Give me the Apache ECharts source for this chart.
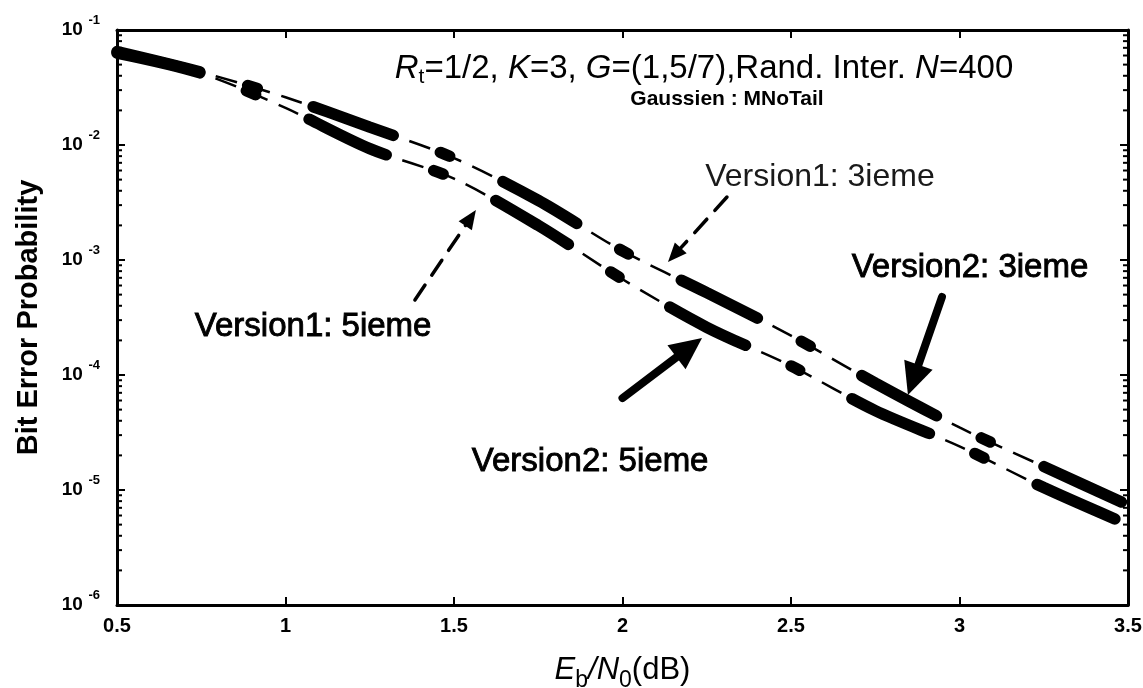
<!DOCTYPE html>
<html>
<head>
<meta charset="utf-8">
<script src="https://cdn.jsdelivr.net/npm/echarts@6/dist/echarts.min.js"></script>
<style>
html,body{margin:0;padding:0;background:#fff;overflow:hidden;}
#main{width:1143px;height:688px;}
</style>
</head>
<body>
<div id="main"></div>
<script>
// ---- data ----
const xValues = [0.5, 0.75, 1.0, 1.25, 1.5, 1.75, 2.0, 2.25, 2.5, 2.75, 3.0, 3.25, 3.5];
const ber3ieme = [0.065, 0.043, 0.026, 0.0143, 0.0077, 0.0033, 0.0012, 0.00052, 0.00022, 0.000085, 0.000035, 0.000016, 0.0000074];
const ber5ieme = [0.063, 0.042, 0.021, 0.0093, 0.0051, 0.0020, 0.00068, 0.00026, 0.00012, 0.000049, 0.000024, 0.0000105, 0.0000050];
const yDecades = [1e-6, 1e-5, 1e-4, 1e-3, 1e-2, 1e-1];

const annotationTexts = ['Version1: 3ieme', 'Version2: 3ieme', 'Version1: 5ieme', 'Version2: 5ieme'];
const annotationTextAt = [[2.586, 5.2e-3], [3.031, 8.5e-4], [1.082, 2.6e-4], [1.904, 1.75e-5]];
const arrowFrom = [[2.310, 3.53e-3], [2.948, 4.77e-4], [1.384, 4.49e-4], [2.000, 6.3e-5]];
const arrowTo = [[2.135, 9.6e-4], [2.847, 6.7e-5], [1.565, 2.72e-3], [2.236, 2.1e-4]];
const arrowKind = ['thin', 'thick', 'thin', 'thick'];

const FONT = '"Liberation Sans", Arial, sans-serif';

function pairs(ys) { return xValues.map((x, i) => [x, ys[i]]); }

const thinStyle = { color: '#000', width: 2.5, type: [22, 12] };
const thickStyle = { color: '#000', width: 11.5, type: [85, 50, 10, 59], cap: 'round' };

const chart = echarts.init(document.getElementById('main'));
const option = {
  animation: false,
  backgroundColor: '#fff',
  title: [{
    text: '{i|R}{s|t}{n|=1/2, }{i|K}{n|=3, }{i|G}{n|=(1,5/7),Rand. Inter. }{i|N}{n|=400}',
    left: 699, top: 45, textAlign: 'center',
    textStyle: {
      rich: {
        n: { fontFamily: FONT, fontSize: 33, fontWeight: 'normal', color: '#000', lineHeight: 38 },
        i: { fontFamily: FONT, fontSize: 33, fontWeight: 'normal', fontStyle: 'italic', color: '#000', lineHeight: 38 },
        s: { fontFamily: FONT, fontSize: 21, fontWeight: 'normal', color: '#000', lineHeight: 38, verticalAlign: 'bottom' }
      }
    }
  }, {
    text: 'Gaussien : MNoTail',
    left: 722, top: 84, textAlign: 'center',
    textStyle: { fontFamily: FONT, fontSize: 21, fontWeight: 'bold', color: '#000' }
  }],
  grid: { left: 117, right: 15, top: 30, bottom: 83, containLabel: false, outerBoundsMode: 'none' },
  xAxis: [{
    type: 'value', min: 0.5, max: 3.5, interval: 0.5, position: 'bottom',
    name: '{i|E}{s|b}{i|/N}{s|0}{n|(dB)}', nameLocation: 'middle', nameGap: 43,
    nameTextStyle: {
      rich: {
        n: { fontFamily: FONT, fontSize: 31, color: '#000', lineHeight: 44 },
        i: { fontFamily: FONT, fontSize: 31, fontStyle: 'italic', color: '#000', lineHeight: 44 },
        s: { fontFamily: FONT, fontSize: 23, color: '#000', lineHeight: 44, verticalAlign: 'bottom' }
      }
    },
    axisLine: { lineStyle: { color: '#000', width: 3 } },
    axisTick: { inside: true, length: 8, lineStyle: { color: '#000', width: 2 } },
    axisLabel: { margin: 11, fontFamily: FONT, fontSize: 20, fontWeight: 'bold', color: '#000',
      formatter: v => String(v) },
    splitLine: { show: false }
  }, {
    type: 'value', min: 0.5, max: 3.5, interval: 0.5, position: 'top',
    axisLine: { lineStyle: { color: '#000', width: 3 } },
    axisTick: { inside: true, length: 8, lineStyle: { color: '#000', width: 2 } },
    axisLabel: { show: false }, splitLine: { show: false }
  }],
  yAxis: [{
    type: 'log', logBase: 10, min: 1e-6, max: 1e-1, position: 'left',
    axisLine: { lineStyle: { color: '#000', width: 3 } },
    axisTick: { inside: true, length: 8, lineStyle: { color: '#000', width: 2 } },
    axisLabel: {
      margin: 17, color: '#000',
      formatter: v => '{b|10}{e| ' + Math.round(Math.log10(v)) + '}',
      rich: {
        b: { fontFamily: FONT, fontSize: 19, fontWeight: 'bold', color: '#000', lineHeight: 34 },
        e: { fontFamily: FONT, fontSize: 13, fontWeight: 'bold', color: '#000', lineHeight: 34, verticalAlign: 'top', padding: [1, 0, 0, 2] }
      }
    },
    splitLine: { show: false }
  }, {
    type: 'log', logBase: 10, min: 1e-6, max: 1e-1, position: 'right',
    axisLine: { lineStyle: { color: '#000', width: 3 } },
    axisTick: { inside: true, length: 8, lineStyle: { color: '#000', width: 2 } },
    axisLabel: { show: false }, splitLine: { show: false }
  }],
  series: [
    { type: 'line', name: 'Version1: 3ieme', data: pairs(ber3ieme), symbol: 'none', smooth: 0.3, lineStyle: thinStyle, silent: true, z: 2 },
    { type: 'line', name: 'Version1: 5ieme', data: pairs(ber5ieme), symbol: 'none', smooth: 0.3, lineStyle: thinStyle, silent: true, z: 2 },
    { type: 'line', name: 'Version2: 3ieme', data: pairs(ber3ieme), symbol: 'none', smooth: 0.3, lineStyle: thickStyle, silent: true, z: 3 },
    { type: 'line', name: 'Version2: 5ieme', data: pairs(ber5ieme), symbol: 'none', smooth: 0.3, lineStyle: thickStyle, silent: true, z: 3 }
  ]
};
chart.setOption(option);

// ---- decorations computed through the chart's scales ----
const graphics = [];
function px(p) { return chart.convertToPixel({ xAxisIndex: 0, yAxisIndex: 0 }, p); }

// minor log ticks on left and right
const leftX = px([0.5, 1e-3])[0];
const rightX = px([3.5, 1e-3])[0];
for (let d = 0; d < yDecades.length - 1; d++) {
  for (let k = 2; k <= 9; k++) {
    const y = px([0.5, yDecades[d] * k])[1];
    graphics.push({ type: 'line', shape: { x1: leftX, y1: y, x2: leftX + 5, y2: y }, style: { stroke: '#000', lineWidth: 2 }, z: 10 });
    graphics.push({ type: 'line', shape: { x1: rightX, y1: y, x2: rightX - 5, y2: y }, style: { stroke: '#000', lineWidth: 2 }, z: 10 });
  }
}

// y axis name, centred on the plot height
const yTop = px([0.5, 1e-1])[1];
const yBot = px([0.5, 1e-6])[1];
graphics.push({
  type: 'text', x: 29, y: (yTop + yBot) / 2, rotation: Math.PI / 2,
  style: { text: 'Bit Error Probability', font: 'bold 29px ' + FONT, fill: '#000', textAlign: 'center', textVerticalAlign: 'middle' },
  z: 10
});

// annotation texts and arrows
for (let i = 0; i < annotationTexts.length; i++) {
  const t = px(annotationTextAt[i]);
  const thick = arrowKind[i] === 'thick';
  const dark = i !== 0;
  graphics.push({
    type: 'text', x: t[0], y: t[1],
    style: { text: annotationTexts[i], font: (i === 0 ? '32px ' : '33px ') + FONT,
      fill: dark ? '#000' : '#1a1a1a', stroke: dark ? '#000' : null, lineWidth: dark ? 0.9 : 0,
      textAlign: 'center', textVerticalAlign: 'middle' },
    z: 10
  });
  const p0 = px(arrowFrom[i]);
  const p1 = px(arrowTo[i]);
  const dx = p1[0] - p0[0], dy = p1[1] - p0[1];
  const len = Math.sqrt(dx * dx + dy * dy);
  const ux = dx / len, uy = dy / len;
  const nx = -uy, ny = ux;
  const L = thick ? 32 : 19;
  const W = thick ? 15 : 8;
  const bx = p1[0] - ux * L, by = p1[1] - uy * L;
  graphics.push({
    type: 'line', shape: { x1: p0[0], y1: p0[1], x2: bx + ux * 2, y2: by + uy * 2 },
    style: { stroke: '#000', lineWidth: thick ? 8 : 3.5, lineDash: thick ? null : [18, 12], lineCap: 'round' },
    z: 10
  });
  graphics.push({
    type: 'polygon',
    shape: { points: [[p1[0], p1[1]], [bx + nx * W, by + ny * W], [bx - nx * W, by - ny * W]] },
    style: { fill: '#000' }, z: 10
  });
}

chart.setOption({ graphic: graphics });
</script>
</body>
</html>
